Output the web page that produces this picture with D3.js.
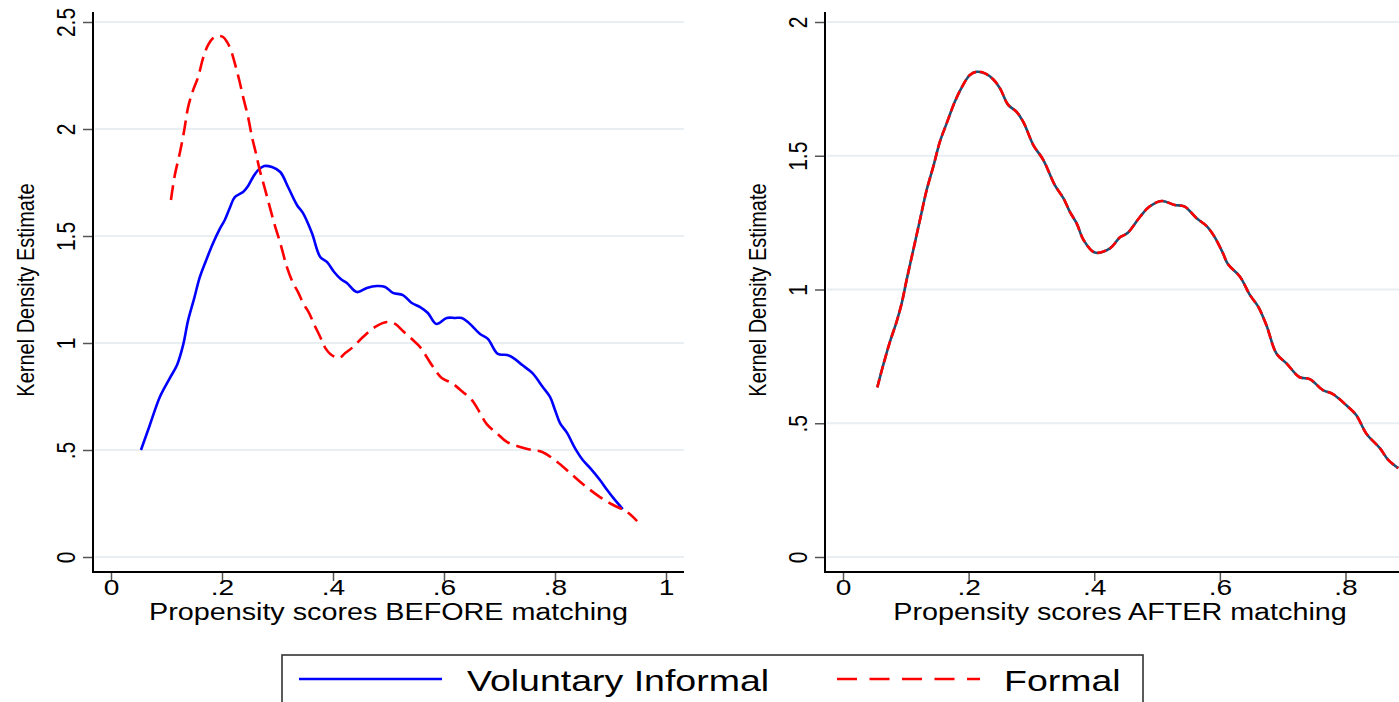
<!DOCTYPE html>
<html><head><meta charset="utf-8">
<title>Propensity scores before and after matching</title>
<script src="https://cdn.jsdelivr.net/npm/d3@7"></script>
<style>
  body { margin: 0; background: #fff; }
  svg { display: block; font-family: "Liberation Sans", Arial, Helvetica, sans-serif; }
  .grid line { stroke: #e8eef1; stroke-width: 2; }
  .frame { stroke: #000; stroke-width: 2; }
  .tick line { stroke: #555; stroke-width: 1.5; }
  .tick text { fill: #000; }
</style>
</head>
<body>
<svg width="1399" height="702"></svg>
<script>
// ---- data ----
var beforeInformalX = [0.054,0.070,0.088,0.106,0.119,0.130,0.139,0.150,0.160,0.173,0.184,0.196,0.205,0.214,0.223,0.238,0.247,0.256,0.265,0.276,0.290,0.305,0.319,0.335,0.346,0.362,0.377,0.389,0.402,0.414,0.425,0.443,0.461,0.479,0.494,0.508,0.526,0.542,0.557,0.571,0.586,0.605,0.620,0.632,0.643,0.665,0.679,0.697,0.714,0.728,0.741,0.759,0.778,0.791,0.800,0.809,0.822,0.831,0.840,0.850,0.865,0.881,0.894,0.905,0.922];
var beforeInformalY = [0.500,0.617,0.748,0.836,0.897,0.991,1.107,1.210,1.308,1.397,1.467,1.533,1.575,1.631,1.682,1.706,1.734,1.776,1.808,1.827,1.822,1.799,1.729,1.645,1.607,1.514,1.402,1.379,1.332,1.299,1.280,1.238,1.257,1.266,1.262,1.234,1.224,1.187,1.168,1.140,1.089,1.117,1.117,1.117,1.098,1.042,1.019,0.949,0.944,0.925,0.897,0.860,0.794,0.748,0.687,0.626,0.579,0.533,0.491,0.453,0.411,0.360,0.313,0.276,0.224];

var beforeFormalX = [0.108,0.115,0.124,0.132,0.139,0.148,0.157,0.166,0.175,0.184,0.193,0.202,0.209,0.216,0.223,0.231,0.238,0.247,0.254,0.261,0.268,0.277,0.286,0.295,0.305,0.317,0.328,0.337,0.346,0.357,0.364,0.377,0.386,0.395,0.411,0.422,0.436,0.454,0.476,0.497,0.512,0.526,0.544,0.557,0.578,0.596,0.614,0.634,0.650,0.665,0.677,0.695,0.714,0.737,0.759,0.777,0.804,0.827,0.850,0.881,0.905,0.930,0.948];
var beforeFormalY = [1.668,1.785,1.888,1.995,2.103,2.182,2.243,2.332,2.393,2.425,2.435,2.430,2.407,2.369,2.308,2.229,2.150,2.056,1.963,1.888,1.808,1.724,1.636,1.551,1.467,1.355,1.280,1.238,1.187,1.140,1.098,1.028,0.977,0.949,0.930,0.953,0.981,1.028,1.075,1.098,1.089,1.056,1.014,0.981,0.897,0.836,0.813,0.771,0.734,0.673,0.621,0.579,0.537,0.514,0.500,0.491,0.444,0.393,0.341,0.280,0.243,0.210,0.168];

// after matching both groups give the same curve
var afterX = [0.0546,0.0641,0.0748,0.0854,0.0934,0.1013,0.1119,0.1225,0.1332,0.1437,0.1543,0.165,0.178,0.191,0.202,0.213,0.226,0.239,0.250,0.263,0.276,0.287,0.303,0.319,0.337,0.351,0.361,0.372,0.383,0.401,0.425,0.441,0.453,0.473,0.488,0.507,0.528,0.544,0.563,0.579,0.592,0.605,0.613,0.632,0.648,0.661,0.674,0.690,0.706,0.727,0.743,0.764,0.780,0.801,0.817,0.833,0.855,0.868,0.884];
var afterInformalY = [0.634,0.718,0.805,0.880,0.948,1.036,1.148,1.260,1.372,1.459,1.553,1.621,1.702,1.764,1.802,1.814,1.808,1.786,1.752,1.690,1.665,1.627,1.540,1.484,1.391,1.341,1.291,1.247,1.185,1.138,1.154,1.195,1.211,1.272,1.310,1.331,1.316,1.310,1.266,1.237,1.195,1.135,1.094,1.048,0.979,0.936,0.867,0.761,0.724,0.672,0.665,0.624,0.609,0.568,0.531,0.462,0.406,0.363,0.332];
var afterFormalY = afterInformalY.slice();

var xTicksBefore = [0, 0.2, 0.4, 0.6, 0.8, 1];
var xTicksAfter = [0, 0.2, 0.4, 0.6, 0.8];
var yTicksBefore = [0, 0.5, 1, 1.5, 2, 2.5];
var yTicksAfter = [0, 0.5, 1, 1.5, 2];

var seriesNames = ["Voluntary Informal", "Formal"];
var xTitles = ["Propensity scores BEFORE matching", "Propensity scores AFTER matching"];
var yTitle = "Kernel Density Estimate";

// ---- layout ----
var SX = 1.25;          // the reference's text is stretched horizontally
var svg = d3.select("svg");
var fmt = function(d){ return d === 0 ? "0" : String(d).replace(/^0\./, "."); };

var panels = [
  { axisX: 93,  right: 684,  xr: [111, 666],  xd: [0, 1],   yd: [0, 2.5], xt: xTicksBefore, yt: yTicksBefore, title: xTitles[0] },
  { axisX: 825, right: 1415, xr: [843, 1345.5], xd: [0, 0.8], yd: [0, 2],   xt: xTicksAfter,  yt: yTicksAfter,  title: xTitles[1] }
];
var yTop = 22, yBot = 557, axisY = 572, frameTop = 12;

panels.forEach(function(p, i){
  p.x = d3.scaleLinear().domain(p.xd).range(p.xr);
  p.y = d3.scaleLinear().domain(p.yd).range([yBot, yTop]);
  var g = svg.append("g").attr("class", "panel-" + i);

  // gridlines
  g.append("g").attr("class", "grid").selectAll("line")
    .data(p.yt).enter().append("line")
      .attr("x1", p.axisX + 2).attr("x2", p.right)
      .attr("y1", function(d){ return p.y(d); }).attr("y2", function(d){ return p.y(d); });

  // x axis
  var xa = g.append("g").attr("transform", "translate(0," + (axisY + 1) + ")")
    .call(d3.axisBottom(p.x).tickValues(p.xt).tickFormat(fmt).tickSize(8).tickPadding(0));
  xa.select(".domain").remove();
  xa.selectAll(".tick text")
    .attr("y", null).attr("dy", null)
    .attr("transform", "translate(0,14.5) scale(" + SX + ",1)")
    .attr("dominant-baseline", "central")
    .style("font-size", "22.5px");

  // y axis
  var ya = g.append("g").attr("transform", "translate(" + p.axisX + ",0)")
    .call(d3.axisLeft(p.y).tickValues(p.yt).tickFormat(fmt).tickSize(10).tickPadding(0));
  ya.select(".domain").remove();
  ya.selectAll(".tick text")
    .attr("x", null).attr("dy", null)
    .attr("text-anchor", "middle")
    .attr("dominant-baseline", "central")
    .attr("transform", "translate(-27,0) scale(1.2,1) rotate(-90)")
    .style("font-size", "21px");

  // frame lines
  g.append("line").attr("class", "frame")
    .attr("x1", p.axisX).attr("x2", p.axisX).attr("y1", frameTop).attr("y2", axisY + 1);
  g.append("line").attr("class", "frame")
    .attr("x1", p.axisX - 1).attr("x2", p.right).attr("y1", axisY).attr("y2", axisY);

  // titles
  g.append("text")
    .attr("transform", "translate(" + ((p.axisX + p.right) / 2) + ",619.5) scale(" + SX + ",1)")
    .attr("text-anchor", "middle").style("font-size", "23px").text(p.title);
  g.append("text")
    .attr("transform", "translate(" + (p.axisX - 67) + "," + 290 + ") scale(1.2,1) rotate(-90)")
    .attr("text-anchor", "middle").attr("dominant-baseline", "central")
    .style("font-size", "20px").text(yTitle);
});

function lineOf(p, xs){
  return d3.line()
    .x(function(d, i){ return p.x(xs[i]); })
    .y(function(d){ return p.y(d); })
    .curve(d3.curveCatmullRom.alpha(0.5));
}

var L = panels[0], R = panels[1];
var gl = svg.select(".panel-0"), gr = svg.select(".panel-1");

gl.append("path").attr("d", lineOf(L, beforeInformalX)(beforeInformalY))
  .attr("fill", "none").attr("stroke", "#0000ff").attr("stroke-width", 2.6);
gl.append("path").attr("d", lineOf(L, beforeFormalX)(beforeFormalY))
  .attr("fill", "none").attr("stroke", "#ff0000").attr("stroke-width", 2.6)
  .attr("stroke-dasharray", "15,7");

gr.append("path").attr("d", lineOf(R, afterX)(afterInformalY))
  .attr("fill", "none").attr("stroke", "#1f4e74").attr("stroke-width", 2.6);
gr.append("path").attr("d", lineOf(R, afterX)(afterFormalY))
  .attr("fill", "none").attr("stroke", "#ff0000").attr("stroke-width", 2.6)
  .attr("stroke-dasharray", "9,4");

// ---- legend ----
var lg = svg.append("g").attr("class", "legend");
lg.append("rect").attr("x", 282).attr("y", 655).attr("width", 861).attr("height", 60)
  .attr("fill", "#fff").attr("stroke", "#333").attr("stroke-width", 1.6);
lg.append("line").attr("x1", 299).attr("x2", 442).attr("y1", 679).attr("y2", 679)
  .attr("stroke", "#0000ff").attr("stroke-width", 2.6);
lg.append("line").attr("x1", 837).attr("x2", 980).attr("y1", 679).attr("y2", 679)
  .attr("stroke", "#ff0000").attr("stroke-width", 2.6).attr("stroke-dasharray", "20,12.5");
lg.selectAll("text.lab").data(seriesNames).enter().append("text")
  .attr("class", "lab")
  .attr("transform", function(d, i){ return "translate(" + (i === 0 ? 467 : 1004) + ",691) scale(" + SX + ",1)"; })
  .style("font-size", "30px").text(function(d){ return d; });
</script>
</body></html>
